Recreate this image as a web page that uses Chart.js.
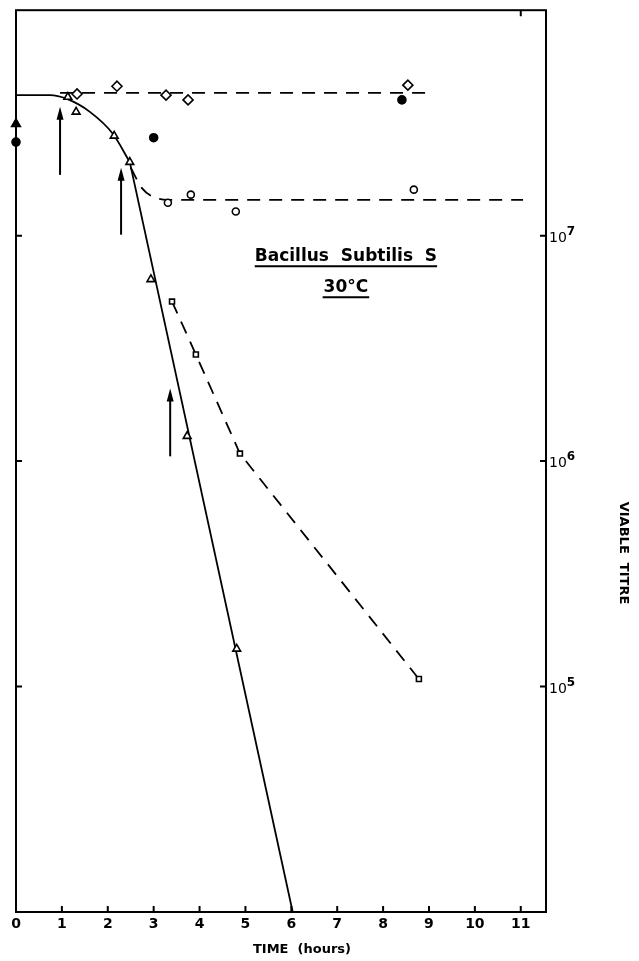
<!DOCTYPE html>
<html>
<head>
<meta charset="utf-8">
<script src="https://cdn.jsdelivr.net/npm/chart.js@4.4.1/dist/chart.umd.min.js"></script>
<style>
  html, body { margin: 0; padding: 0; background: #fff; }
</style>
</head>
<body>
<canvas id="chart" width="639" height="961"></canvas>
<script>
// time axis (hours) and titre axis ticks
const xTickValues = [0, 1, 2, 3, 4, 5, 6, 7, 8, 9, 10, 11];
const yTickValues = [1e5, 1e6, 1e7];
const yTickPowers = ['5', '6', '7'];

// measured points
const triangleX = [1.13, 1.31, 2.14, 2.48, 2.94, 3.73, 4.81];
const triangleY = [4.12e7, 3.54e7, 2.77e7, 2.12e7, 6.4e6, 1.29e6, 1.47e5];
const diamondX = [1.33, 2.20, 3.27, 3.75, 8.54];
const diamondY = [4.25e7, 4.6e7, 4.2e7, 4.0e7, 4.65e7];
const circleX = [3.31, 3.81, 4.79, 8.67];
const circleY = [1.40e7, 1.52e7, 1.28e7, 1.60e7];
const squareX = [3.40, 3.92, 4.88, 8.78];
const squareY = [5.1e6, 2.97e6, 1.08e6, 1.08e5];
const dotX = [0, 3.0, 8.41];
const dotY = [2.6e7, 2.72e7, 4.0e7];
const solidTriX = [0];
const solidTriY = [3.13e7];

// drawn curves
const shoulderX = [0, 0.74, 1.11, 1.61, 2.11, 2.48];
const shoulderY = [4.2e7, 4.2e7, 4.04e7, 3.54e7, 2.83e7, 2.12e7];
const declineX = [2.48, 6.03];
const declineY = [2.12e7, 1e4];
const plateauX = [0.96, 9.0];
const plateauY = [4.3e7, 4.3e7];
const resistX = [2.5, 2.75, 2.95, 3.3, 11.05];
const resistY = [2.0e7, 1.62e7, 1.50e7, 1.44e7, 1.44e7];

// arrows (x, tail, head)
const arrowX = [0.96, 2.29, 3.36];
const arrowFrom = [1.86e7, 1.01e7, 1.05e6];
const arrowTo = [3.73e7, 2.0e7, 2.1e6];

const pts = (xs, ys) => xs.map((x, i) => ({x: x, y: ys[i]}));

const marker = (data, style, r, fill) => ({
  data: data, showLine: false, pointStyle: style, pointRadius: r,
  pointBorderColor: '#000', pointBackgroundColor: fill, pointBorderWidth: 1.6, clip: false
});

const curve = (data, dash, mono) => ({
  data: data, showLine: true, pointRadius: 0, borderColor: '#000', borderWidth: 1.8,
  borderDash: dash, cubicInterpolationMode: mono ? 'monotone' : 'default', tension: 0
});

const frame = {
  id: 'frame',
  afterDatasetsDraw(chart) {
    const {ctx, chartArea: a, scales: {x, y}} = chart;
    ctx.save();
    ctx.strokeStyle = '#000';
    ctx.fillStyle = '#000';
    ctx.lineWidth = 2;
    ctx.strokeRect(a.left, a.top, a.right - a.left, a.bottom - a.top);

    // inward ticks
    ctx.beginPath();
    xTickValues.slice(1).forEach(v => {
      const px = x.getPixelForValue(v);
      ctx.moveTo(px, a.bottom); ctx.lineTo(px, a.bottom - 6);
    });
    const top11 = x.getPixelForValue(11);
    ctx.moveTo(top11, a.top); ctx.lineTo(top11, a.top + 6);
    yTickValues.forEach(v => {
      const py = y.getPixelForValue(v);
      ctx.moveTo(a.right, py); ctx.lineTo(a.right - 6, py);
      ctx.moveTo(a.left, py); ctx.lineTo(a.left + 6, py);
    });
    ctx.stroke();

    // decade labels 10^n on the right
    ctx.textAlign = 'left';
    ctx.textBaseline = 'alphabetic';
    yTickValues.forEach((v, i) => {
      const py = y.getPixelForValue(v);
      ctx.font = '14px "DejaVu Sans"';
      ctx.fillText('10', a.right + 3, py + 6);
      const w = ctx.measureText('10').width;
      ctx.font = 'bold 12px "DejaVu Sans"';
      ctx.fillText(yTickPowers[i], a.right + 3 + w, py - 1);
    });

    // arrows
    arrowX.forEach((v, i) => {
      const px = x.getPixelForValue(v);
      const y0 = y.getPixelForValue(arrowFrom[i]);
      const y1 = y.getPixelForValue(arrowTo[i]);
      ctx.beginPath();
      ctx.moveTo(px, y0); ctx.lineTo(px, y1 + 8);
      ctx.stroke();
      ctx.beginPath();
      ctx.moveTo(px, y1); ctx.lineTo(px - 3.5, y1 + 13); ctx.lineTo(px + 3.5, y1 + 13);
      ctx.closePath();
      ctx.fill();
    });

    // label
    ctx.textAlign = 'center';
    ctx.font = 'bold 17px "DejaVu Sans"';
    const lx = x.getPixelForValue(7.19);
    const ly = y.getPixelForValue(7.7e6);
    const l1 = 'Bacillus  Subtilis  S';
    const w1 = ctx.measureText(l1).width;
    ctx.fillText(l1, lx, ly);
    const l2 = '30\u00b0C';
    const w2 = ctx.measureText(l2).width;
    ctx.fillText(l2, lx, ly + 31);
    ctx.lineWidth = 1.8;
    ctx.beginPath();
    ctx.moveTo(lx - w1 / 2, ly + 5); ctx.lineTo(lx + w1 / 2, ly + 5);
    ctx.moveTo(lx - w2 / 2 - 1, ly + 36); ctx.lineTo(lx + w2 / 2 + 1, ly + 36);
    ctx.stroke();

    // axis titles
    ctx.font = 'bold 13px "DejaVu Sans"';
    ctx.textBaseline = 'middle';
    ctx.fillText('TIME  (hours)', 302, 950);
    ctx.translate(623, 553);
    ctx.rotate(Math.PI / 2);
    ctx.fillText('VIABLE  TITRE', 0, 0);
    ctx.restore();
  }
};

new Chart(document.getElementById('chart'), {
  type: 'scatter',
  data: {
    datasets: [
      marker(pts(triangleX, triangleY), 'triangle', 4.5, '#fff'),
      marker(pts(diamondX, diamondY), 'rectRot', 5, '#fff'),
      marker(pts(circleX, circleY), 'circle', 3.5, '#fff'),
      marker(pts(squareX, squareY), 'rect', 3.5, '#fff'),
      marker(pts(dotX, dotY), 'circle', 4, '#000'),
      marker(pts(solidTriX, solidTriY), 'triangle', 5, '#000'),
      curve(pts(shoulderX, shoulderY), [], true),
      curve(pts(declineX, declineY), [], false),
      curve(pts(plateauX, plateauY), [13, 9], false),
      curve(pts(resistX, resistY), [13, 9], true),
      curve(pts(squareX, squareY), [13, 9], false)
    ]
  },
  options: {
    responsive: false,
    animation: false,
    devicePixelRatio: 1,
    layout: {padding: {left: 16, top: 10, right: 0, bottom: 0}},
    plugins: {legend: {display: false}, tooltip: {enabled: false}},
    scales: {
      x: {
        type: 'linear', min: 0, max: 11.55,
        afterBuildTicks: s => { s.ticks = xTickValues.map(v => ({value: v})); },
        afterFit: s => { s.height = 49; },
        grid: {display: false, drawTicks: false},
        border: {display: false},
        ticks: {
          autoSkip: false, maxRotation: 0, padding: 4, color: '#000',
          font: {family: 'DejaVu Sans', size: 14, weight: 'bold'},
          callback: v => String(v)
        }
      },
      y: {
        type: 'logarithmic', position: 'right', min: 1e4, max: 1e8,
        afterBuildTicks: s => { s.ticks = yTickValues.map(v => ({value: v})); },
        afterFit: s => { s.width = 93; },
        grid: {display: false, drawTicks: false},
        border: {display: false},
        ticks: {callback: () => ''}
      }
    }
  },
  plugins: [frame]
});
</script>
</body>
</html>
